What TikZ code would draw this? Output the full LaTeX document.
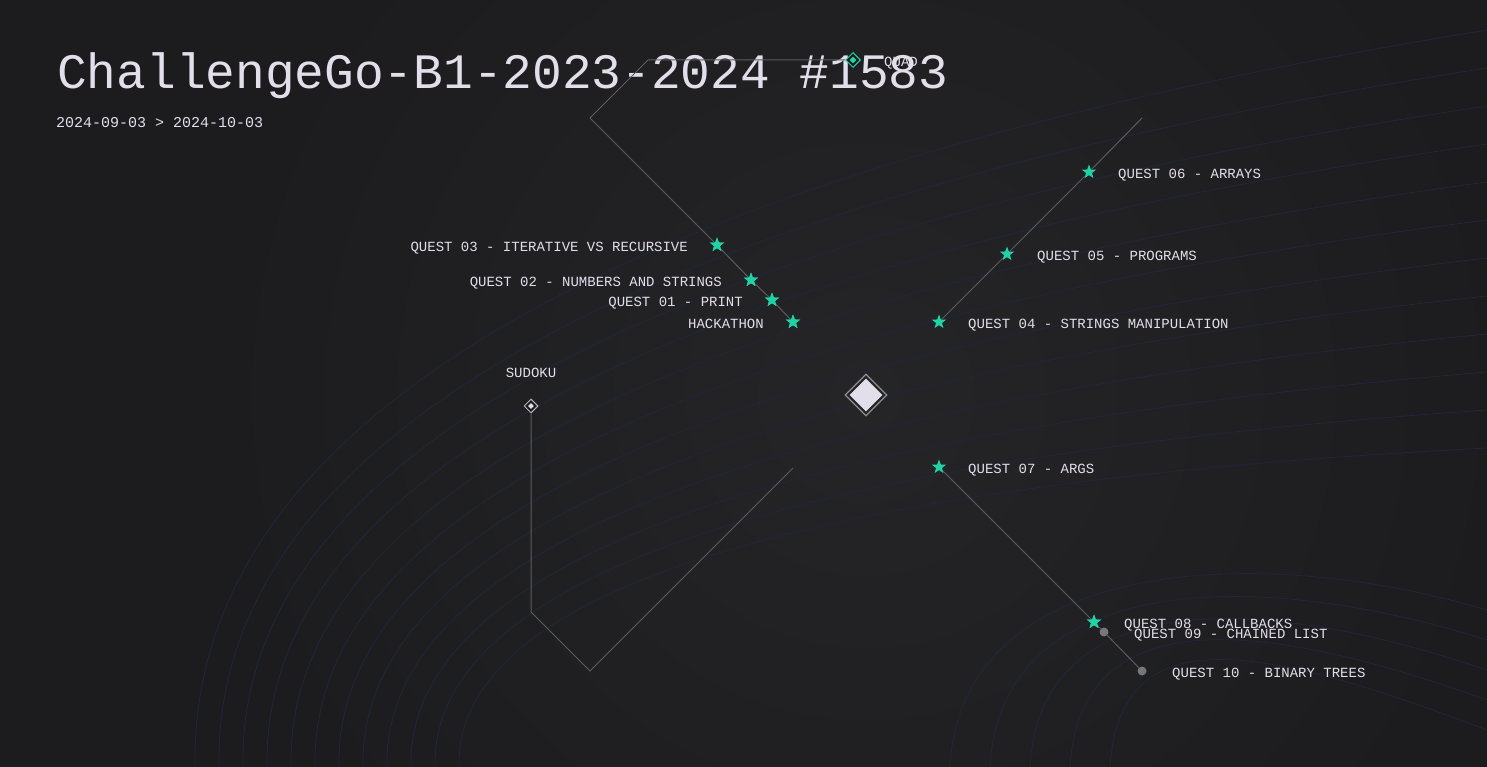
\documentclass[tikz,border=0pt]{standalone}
\usepackage{fontspec}
\setmonofont{Liberation Mono}
\usetikzlibrary{shapes.geometric,positioning}
\definecolor{bg}{HTML}{1C1C1F}
\definecolor{glow}{HTML}{252528}
\definecolor{ink}{HTML}{E2DEEA}
\definecolor{mint}{HTML}{1FD3A4}
\definecolor{wire}{HTML}{5C5C60}
\definecolor{contour}{HTML}{20263B}
\definecolor{grey dot}{HTML}{77777A}
\tikzset{
  wire/.style={draw=wire, line width=1pt},
  qstar/.style={star, star points=5, star point ratio=2.4, minimum size=15pt,
    inner sep=0pt, fill=mint},
  qdot/.style={circle, minimum size=9pt, inner sep=0pt, fill=grey dot},
  lbl/.style={font=\ttfamily\fontsize{14}{14}\selectfont, text=ink,
    inner sep=0pt, text height=9.2pt, text depth=0pt, yshift=-2pt},
}
\begin{document}
\begin{tikzpicture}[x=1pt,y=-1pt]
  \useasboundingbox (0,0) rectangle (1487,767);
  \fill[bg] (0,0) rectangle (1487,767);
  \shade[inner color=glow, outer color=bg] (866,395) circle (650);
  % faint contour lines
  \foreach \i in {0,...,11}{
    \draw[contour, line width=0.8pt] (195+\i*24,767) .. controls (190+\i*24,470+\i*8)
      and (500+\i*40,190+\i*26) .. (1487,30+\i*38);
  }
  \foreach \i in {0,...,4}{
    \draw[contour, line width=0.8pt] (950+\i*40,767) .. controls (960+\i*40,560+\i*15)
      and (1250,540+\i*25) .. (1487,610+\i*30);
  }
  % title
  \node[anchor=base west, inner sep=0pt, text=ink,
    font=\ttfamily\fontsize{49.5}{50}\selectfont] (title) at (57,89)
    {ChallengeGo-B1-2023-2024 \#1583};
  \node[anchor=base west, inner sep=0pt, text=ink,
    font=\ttfamily\fontsize{15}{15}\selectfont] (dates) at (56,128)
    {2024-09-03 > 2024-10-03};
  % center
  \node[diamond, draw=wire!70!white, line width=1.2pt, minimum size=42pt,
    inner sep=0pt] (core) at (866,395) {};
  \node[diamond, fill=ink, minimum size=33pt, inner sep=0pt] at (core) {};
  % quad branch
  \node[diamond, draw=mint, line width=1pt, minimum size=15pt, inner sep=0pt,
    fill=bg] (quad) at (853,60) {};
  \node[diamond, fill=mint, minimum size=7pt, inner sep=0pt] at (quad) {};
  \node[lbl, right=31pt of quad.center, anchor=west] {QUAD};
  \coordinate (qa) at (648,60);
  \coordinate (qb) at (590,118);
  \node[qstar] (q03) at (717,245) {};
  \node[qstar] (q02) at (751,280) {};
  \node[qstar] (q01) at (772,300) {};
  \node[qstar] (hack) at (793,322) {};
  \draw[wire] (quad) -- (qa) -- (qb) -- (q03) -- (q02) -- (q01) -- (hack);
  \foreach \q in {q03,q02,q01,hack}{\node[qstar] at (\q) {};}
  \node[lbl, left=29pt of q03.center] {QUEST 03 - ITERATIVE VS RECURSIVE};
  \node[lbl, left=29pt of q02.center] {QUEST 02 - NUMBERS AND STRINGS};
  \node[lbl, left=29pt of q01.center] {QUEST 01 - PRINT};
  \node[lbl, left=29pt of hack.center] {HACKATHON};
  % upper right branch
  \node[qstar] (q04) at (939,322) {};
  \node[qstar] (q05) at (1007,254) {};
  \node[qstar] (q06) at (1089,172) {};
  \coordinate (ur) at (1142,118);
  \draw[wire] (q04) -- (q05) -- (q06) -- (ur);
  \node[lbl, right=29pt of q04.center] {QUEST 04 - STRINGS MANIPULATION};
  \node[lbl, right=30pt of q05.center] {QUEST 05 - PROGRAMS};
  \node[lbl, right=29pt of q06.center] {QUEST 06 - ARRAYS};
  % lower right branch
  \node[qstar] (q07) at (939,467) {};
  \node[qstar] (q08) at (1094,622) {};
  \node[qdot] (q09) at (1104,632) {};
  \node[qdot] (q10) at (1142,671) {};
  \draw[wire] (q07) -- (q08) -- (q09) -- (q10);
  \node[qstar] at (q08) {};
  \node[lbl, right=29pt of q07.center] {QUEST 07 - ARGS};
  \node[lbl, right=30pt of q08.center] {QUEST 08 - CALLBACKS};
  \node[lbl, right=30pt of q09.center] {QUEST 09 - CHAINED LIST};
  \node[lbl, right=30pt of q10.center] {QUEST 10 - BINARY TREES};
  % sudoku branch
  \node[diamond, draw=ink!80!black, line width=1pt, minimum size=14pt,
    inner sep=0pt, fill=bg] (sudoku) at (531,406) {};
  \node[diamond, fill=ink, minimum size=6pt, inner sep=0pt] at (sudoku) {};
  \node[lbl, above=35pt of sudoku.center, anchor=center] {SUDOKU};
  \coordinate (sa) at (531,612);
  \coordinate (sb) at (590,671);
  \coordinate (sc) at (793,468);
  \draw[wire] (sudoku) -- (sa) -- (sb) -- (sc);
\end{tikzpicture}
\end{document}
